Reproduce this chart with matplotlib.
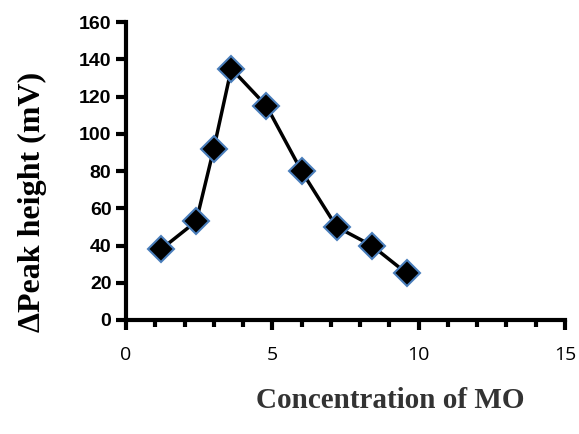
import matplotlib.pyplot as plt

# data
conc = [1.2, 2.4, 3.0, 3.6, 4.8, 6.0, 7.2, 8.4, 9.6]
peak = [38, 53, 92, 135, 115, 80, 50, 40, 25]

fig = plt.figure(figsize=(5.79, 4.34), dpi=100)
ax = fig.add_axes([0.2176, 0.2627, 0.758, 0.6863])

ax.plot(conc, peak, color='k', lw=2.5, marker='D', markersize=13,
        markerfacecolor='k', markeredgecolor='#4a7ebb', markeredgewidth=1.5)

ax.set_xlim(0, 15)
ax.set_ylim(0, 160)
ax.set_xticks([0, 5, 10, 15])
ax.set_xticks(range(0, 16), minor=True)
ax.set_yticks(range(0, 161, 20))

for s in ['top', 'right']:
    ax.spines[s].set_visible(False)
for s in ['left', 'bottom']:
    ax.spines[s].set_linewidth(3)

ax.tick_params(axis='both', which='both', direction='out', width=3, color='k')
ax.tick_params(axis='x', which='major', length=7, pad=12, labelsize=14)
ax.tick_params(axis='x', which='minor', length=5)
ax.tick_params(axis='y', length=7, labelsize=14)
for lbl in ax.get_yticklabels():
    lbl.set_fontweight('bold')
    lbl.set_family('Liberation Sans')
for lbl in ax.get_xticklabels():
    lbl.set_family('Open Sans')

# axis titles sit off-centre in the original, so place them by hand
fig.text(0.056, 0.535, 'ΔPeak height (mV)', family='Liberation Serif',
         fontweight='bold', fontsize=23, rotation=90, ha='center', va='center')
fig.text(0.674, 0.078, 'Concentration of MO', family='Liberation Serif',
         fontweight='bold', fontsize=21, ha='center', va='center', color='#333333')

fig.savefig('out.png', dpi=100)
